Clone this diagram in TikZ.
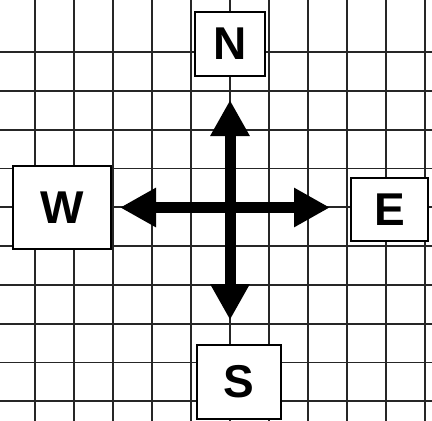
\documentclass[tikz,border=0pt]{standalone}
\usepackage{fontspec}
\setmainfont{Liberation Sans}
\usetikzlibrary{arrows.meta}

\begin{document}
\begin{tikzpicture}[
    x=1pt, y=-1pt,
    gridline/.style={line width=1.8pt, black!85},
    box/.style={draw, line width=1.5pt, fill=white, inner sep=0pt, font=\fontsize{46}{46}\selectfont\bfseries},
    compass/.style={-{Triangle[length=36pt, width=37pt]}, line width=11pt}
]
\useasboundingbox (0,0) rectangle (432,421);
% grid
\foreach \i in {0,...,10} {
    \draw[gridline] (35+39*\i,0) -- (35+39*\i,421);
}
\foreach \j in {0,...,9} {
    \draw[gridline] (0,52+38.8*\j) -- (432,52+38.8*\j);
}
% labels
\node[box, minimum width=70pt, minimum height=64pt] (n) at (230,44) {N};
\node[box, minimum width=98pt, minimum height=83pt] (w) at (62,207.5) {W};
\node[box, minimum width=77pt, minimum height=63pt] (e) at (389.5,209.5) {E};
\node[box, minimum width=84pt, minimum height=74pt] (s) at (239,382) {S};
% arrows
\coordinate (c) at (230,207.5);
\coordinate (ntip) at (230,100);
\coordinate (stip) at (230,320);
\coordinate (wtip) at (120,207.5);
\coordinate (etip) at (330,207.5);
\draw[compass] (c) -- (ntip);
\draw[compass] (c) -- (stip);
\draw[compass] (c) -- (wtip);
\draw[compass] (c) -- (etip);
\end{tikzpicture}
\end{document}
